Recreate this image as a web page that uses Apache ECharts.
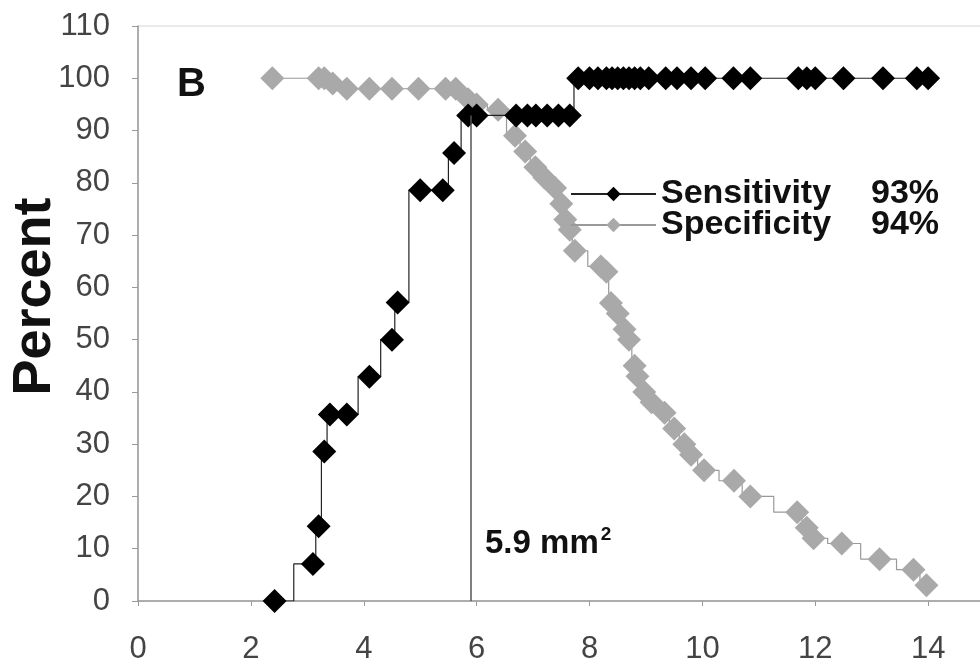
<!DOCTYPE html>
<html>
<head>
<meta charset="utf-8">
<script src="https://cdn.jsdelivr.net/npm/echarts@6/dist/echarts.min.js"></script>
<style>
  html, body { margin: 0; padding: 0; background: #fff; }
  #chart { width: 980px; height: 664px; }
</style>
</head>
<body>
<div id="chart"></div>
<script>
// cross-sectional area (mm2) vs percent
const seriesNames = ['Sensitivity', 'Specificity'];
const legendPct = ['93%', '94%'];
const sensX = [2.42, 3.1, 3.2, 3.3, 3.4, 3.7, 4.1, 4.5, 4.6, 5.0, 5.4, 5.6, 5.85, 6.0,
    6.7, 6.9, 7.05, 7.25, 7.45, 7.65,
    7.8, 8.0, 8.15, 8.3, 8.4, 8.5, 8.6, 8.7, 8.8, 8.9, 9.05, 9.35, 9.55, 9.8, 10.05, 10.55, 10.85,
    11.7, 11.85, 12.0, 12.5, 13.2, 13.8, 14.0];
const sensY = [0, 7.1, 14.3, 28.6, 35.7, 35.7, 42.9, 50, 57.1, 78.6, 78.6, 85.7, 92.9, 92.9,
    92.9, 92.9, 92.9, 92.9, 92.9, 92.9,
    100, 100, 100, 100, 100, 100, 100, 100, 100, 100, 100, 100, 100, 100, 100, 100, 100,
    100, 100, 100, 100, 100, 100, 100];
const specX = [2.38, 3.2, 3.3, 3.45, 3.7, 4.1, 4.5, 4.97, 5.45, 5.63, 5.85, 6.0, 6.38,
    6.68, 6.86, 7.04, 7.2, 7.39, 7.5, 7.57, 7.65, 7.74, 8.2, 8.3, 8.38, 8.5, 8.62, 8.7, 8.8, 8.85,
    8.97, 9.1, 9.33, 9.5, 9.68, 9.8, 10.03, 10.56, 10.85, 11.68, 11.85, 11.97, 12.47, 13.14, 13.74, 13.97];
const specY = [100, 100, 100, 99, 98, 98, 98, 98, 98, 98, 96, 95, 94,
    89, 86, 83, 81, 79, 76, 73, 71, 67, 64, 63, 57, 55, 52, 50, 45, 43,
    40, 38, 36, 33, 30, 28, 25, 23, 20, 17, 14, 12, 11, 8, 6, 3];
const xTicks = [0, 16, 2];     // min, max, interval
const yTicks = [0, 110, 10];
const cutX = 5.9;
const cutY = 92.9;

const font = '"Liberation Sans", Arial, sans-serif';
const pair = (xs, ys) => xs.map((x, i) => [x, ys[i]]);

const chart = echarts.init(document.getElementById('chart'));
chart.setOption({
    animation: false,
    backgroundColor: '#fff',
    title: {
        text: 'B',
        left: 172,
        top: 60,
        textStyle: { fontFamily: font, fontSize: 40, fontWeight: 'bold', color: '#111' }
    },
    grid: {
        left: 138, right: -61, top: 26, bottom: 63,
        outerBoundsMode: 'none',
        containLabel: false,
        show: true, borderColor: '#d4d4d4', borderWidth: 1
    },
    legend: {
        orient: 'vertical',
        left: 565,
        top: 172,
        itemWidth: 85,
        itemHeight: 18,
        itemGap: -3,
        data: seriesNames,
        formatter: name => `{a|${name}}{b|${legendPct[seriesNames.indexOf(name)]}}`,
        textStyle: {
            fontFamily: font, fontSize: 34, fontWeight: 'bold', color: '#111',
            rich: {
                a: { fontFamily: font, fontSize: 34, fontWeight: 'bold', color: '#111', width: 210 },
                b: { fontFamily: font, fontSize: 34, fontWeight: 'bold', color: '#111' }
            }
        }
    },
    xAxis: {
        type: 'value',
        min: xTicks[0], max: xTicks[1], interval: xTicks[2],
        axisLine: { lineStyle: { color: '#999', width: 1.5 } },
        axisTick: { show: true, length: 5, lineStyle: { color: '#999' } },
        splitLine: { show: false },
        axisLabel: { fontFamily: font, fontSize: 31, color: '#444', margin: 33 }
    },
    yAxis: {
        type: 'value',
        min: yTicks[0], max: yTicks[1], interval: yTicks[2],
        name: 'Percent',
        nameLocation: 'middle',
        nameRotate: 90,
        nameGap: 76,
        nameMoveOverlap: false,
        nameTextStyle: { fontFamily: font, fontSize: 54, fontWeight: 'bold', color: '#111', padding: [0, 0, 0, 34] },
        axisLine: { show: true, lineStyle: { color: '#999', width: 1.5 } },
        axisTick: { show: true, length: 6, lineStyle: { color: '#999' } },
        splitLine: { show: false },
        axisLabel: { fontFamily: font, fontSize: 31, color: '#444', margin: 28 }
    },
    series: [
        {
            name: seriesNames[1],
            type: 'line',
            step: 'middle',
            data: pair(specX, specY),
            symbol: 'diamond',
            symbolSize: 24,
            itemStyle: { color: '#a9a9a9' },
            lineStyle: { color: '#999', width: 1.2 },
            z: 2
        },
        {
            name: seriesNames[0],
            type: 'line',
            step: 'middle',
            data: pair(sensX, sensY),
            symbol: 'diamond',
            symbolSize: 24,
            itemStyle: { color: '#000' },
            lineStyle: { color: '#222', width: 1.2 },
            z: 3,
            markLine: {
                silent: true,
                symbol: 'none',
                label: { show: false },
                lineStyle: { color: '#555', width: 1.5, type: 'solid' },
                data: [[{ coord: [cutX, 0] }, { coord: [cutX, cutY] }]]
            }
        }
    ],
    graphic: [{
        type: 'text',
        left: 485,
        top: 525,
        style: {
            text: '{a|5.9 mm}{b|2}',
            rich: {
                a: { fontFamily: font, fontSize: 33, fontWeight: 'bold', fill: '#111' },
                b: { fontFamily: font, fontSize: 19, fontWeight: 'bold', fill: '#111', verticalAlign: 'top', padding: [0, 0, 18, 2] }
            }
        }
    }]
});
</script>
</body>
</html>
